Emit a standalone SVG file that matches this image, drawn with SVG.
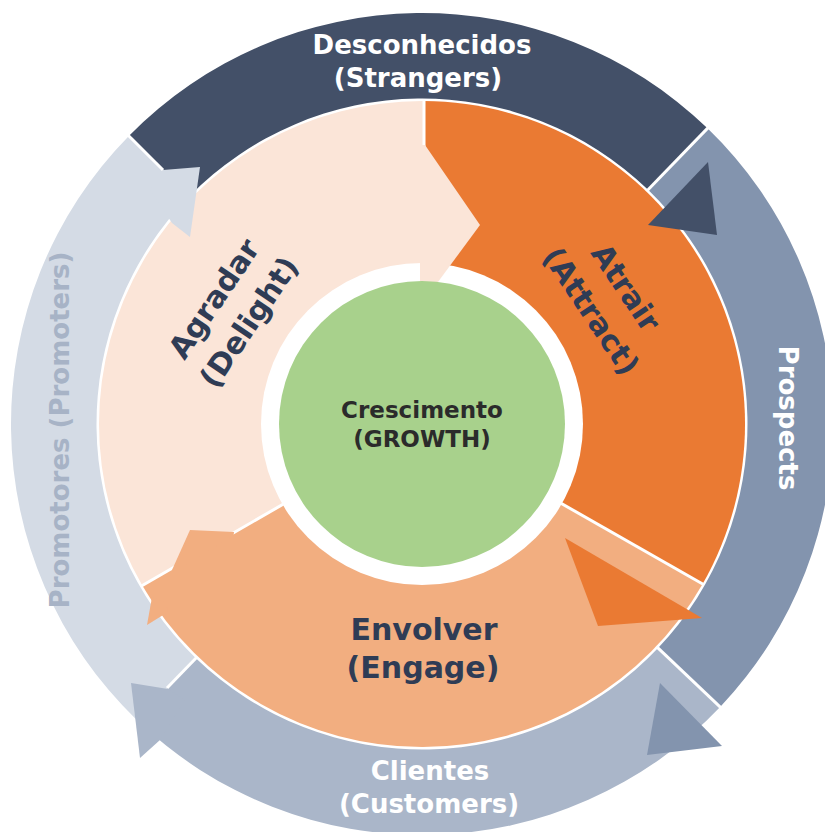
<svg xmlns="http://www.w3.org/2000/svg" width="825" height="832" viewBox="0 0 825 832">
  <style>
    .lbl { font-family: "DejaVu Sans", "Liberation Sans", sans-serif; font-weight: bold; text-anchor: middle; }
    .ring { font-size: 26px; fill: #ffffff; }
    .stage { font-size: 30px; fill: #2f3c55; }
    .core { font-size: 23px; fill: #2b2b2b; }
    .sep { stroke: #ffffff; stroke-width: 3; fill: none; }
  </style>
  <rect width="825" height="832" fill="#ffffff"/>

  <!-- outer ring: audience groups -->
  <g id="strangers">
    <path d="M128.85,135.93 A411,411 0 0 1 707.51,128.35 L648.11,189.85 A325.5,325.5 0 0 0 189.84,195.85 Z" fill="#435068"/>
  </g>
  <g id="prospects">
    <path d="M707.51,128.35 A411,411 0 0 1 720.13,706.91 L658.11,648.06 A325.5,325.5 0 0 0 648.11,189.85 Z" fill="#8394ae"/>
  </g>
  <g id="customers">
    <path d="M720.13,706.91 A411,411 0 0 1 136.49,719.65 L195.89,658.15 A325.5,325.5 0 0 0 658.11,648.06 Z" fill="#aab6c9"/>
  </g>
  <g id="promoters">
    <path d="M136.49,719.65 A411,411 0 0 1 128.85,135.93 L189.84,195.85 A325.5,325.5 0 0 0 195.89,658.15 Z" fill="#d4dbe5"/>
  </g>

  <!-- inner ring: flywheel stages -->
  <g id="attract">
    <path d="M424,424 L424,101 A323,323 0 0 1 702.6,584 Z" fill="#ea7a33"/>
  </g>
  <g id="engage">
    <path d="M422,424 L702.6,584 A323,323 0 0 1 142.3,585.5 Z" fill="#f2ae80"/>
  </g>
  <g id="delight">
    <path d="M422,424 L142.3,585.5 A323,323 0 0 1 424,101 L424,424 Z" fill="#fbe5d8"/>
  </g>

  <!-- separators and arrowheads -->
  <g id="connectors">
    <line class="sep" x1="163" y1="170" x2="127.4" y2="134.5"/>
    <line class="sep" x1="646.6" y1="191.3" x2="708.9" y2="126.9"/>
    <line class="sep" x1="656.3" y1="646.3" x2="721.6" y2="708.3"/>
    <line class="sep" x1="197.3" y1="656.7" x2="167" y2="688"/>
    <line class="sep" x1="424" y1="424" x2="424" y2="100"/>
    <line class="sep" x1="422" y1="424" x2="704" y2="584.8"/>
    <line class="sep" x1="422" y1="424" x2="141" y2="586.3"/>

    <!-- stage arrowheads -->
    <polygon points="565,538 702,618 598,626" fill="#ea7a33"/>
    <polygon points="234,532 190,530 172,570 173.6,572.6 233.6,535.6" fill="#f2ae80"/>
    <polygon points="152,597 147,625 168,612 166,603" fill="#f2ae80"/>

    <!-- ring arrowheads -->
    <polygon points="708,162 717,235 648,225" fill="#435068"/>
    <polygon points="660,683 722,746 647,755" fill="#8394ae"/>
    <polygon points="168,689 131,683 140,758 160,740 185,700" fill="#aab6c9"/>
    <polygon points="163,170 200,167 190,237 172,223 150,190" fill="#d4dbe5"/>
  </g>

  <!-- hub -->
  <g id="growth">
    <circle cx="422" cy="424" r="161" fill="#ffffff"/>
    <polygon points="420,145 425,145 480,225 435,286 420,286" fill="#fbe5d8"/>
    <circle cx="422" cy="424" r="143" fill="#a8d18c"/>
    <text class="lbl core" x="422" y="418">Crescimento</text>
    <text class="lbl core" x="422" y="447">(GROWTH)</text>
  </g>

  <!-- labels -->
  <text class="lbl ring" x="422" y="54">Desconhecidos</text>
  <text class="lbl ring" x="418" y="87">(Strangers)</text>
  <text class="lbl ring" transform="translate(779,418) rotate(90)" x="0" y="0">Prospects</text>
  <text class="lbl ring" x="430" y="780">Clientes</text>
  <text class="lbl ring" x="429" y="813">(Customers)</text>
  <text class="lbl ring" transform="translate(69,430) rotate(-90)" x="0" y="0" style="fill:#a7b3c6">Promotores (Promoters)</text>

  <text class="lbl stage" x="424" y="640">Envolver</text>
  <text class="lbl stage" x="423" y="678">(Engage)</text>
  <g transform="translate(231,310) rotate(-56)">
    <text class="lbl stage" x="0" y="-10">Agradar</text>
    <text class="lbl stage" x="0" y="32">(Delight)</text>
  </g>
  <g transform="translate(609,299) rotate(56)">
    <text class="lbl stage" x="0" y="-10">Atrair</text>
    <text class="lbl stage" x="0" y="32">(Attract)</text>
  </g>
</svg>
